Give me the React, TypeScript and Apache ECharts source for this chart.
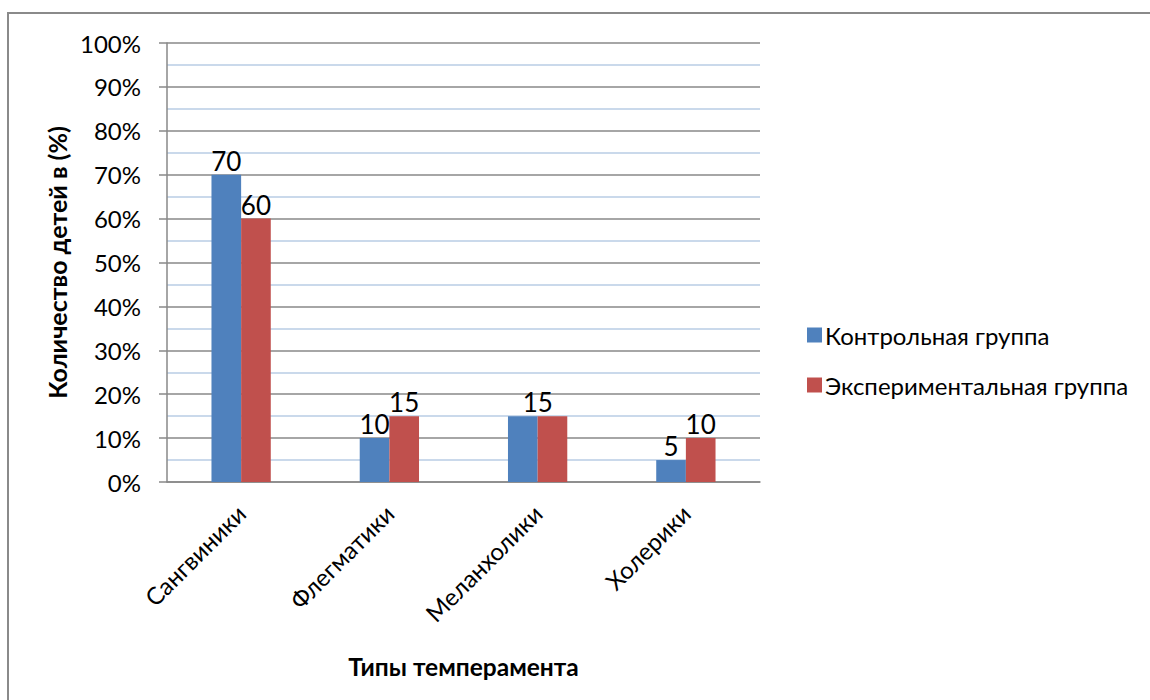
import React, { useEffect, useRef } from "react";
import * as echarts from "echarts";

const categories = ["Сангвиники", "Флегматики", "Меланхолики", "Холерики"];
const controlGroup = [70, 10, 15, 5];
const experimentalGroup = [60, 15, 15, 10];
const seriesNames = ["Контрольная группа", "Экспериментальная группа"];
const xTitle = "Типы темперамента";
const yTitle = "Количество детей в (%)";
// In the reference, the two equal "15" labels of "Меланхолики" are drawn as one, centred on the pair
const mergedLabelIndex = 2;

const FONT = "Lato, 'Open Sans', sans-serif";

export default function App() {
  const ref = useRef<HTMLDivElement>(null);
  useEffect(() => {
    if (!ref.current) return;
    const chart = echarts.init(ref.current, undefined, { renderer: "svg" });
    const labelStyle = {
      show: true,
      position: "top",
      distance: 1,
      color: "#000",
      fontSize: 26,
      fontFamily: FONT,
    };
    const barWidthShift = 15;
    const controlData = controlGroup.map((v, i) =>
      i === mergedLabelIndex ? { value: v, label: { offset: [barWidthShift, 0] } } : v
    );
    const experimentalData = experimentalGroup.map((v, i) =>
      i === mergedLabelIndex ? { value: v, label: { show: false } } : v
    );
    chart.setOption({
      animation: false,
      backgroundColor: "#fff",
      textStyle: { fontFamily: FONT },
      graphic: [
        {
          type: "rect",
          shape: { x: 8, y: 13, width: 1400, height: 900 },
          style: { fill: "none", stroke: "#8a8a8a", lineWidth: 2 },
          silent: true,
        },
      ],
      grid: { left: 167, top: 43, right: 390, bottom: 218 },
      legend: {
        orient: "vertical",
        left: 802,
        top: 317,
        itemWidth: 15,
        itemHeight: 15,
        itemGap: 24,
        icon: "rect",
        data: seriesNames,
        textStyle: { fontSize: 24, color: "#000", fontFamily: FONT, lineHeight: 26, padding: [0, 0, 0, -2] },
      },
      xAxis: {
        type: "category",
        data: categories,
        name: xTitle,
        nameLocation: "middle",
        nameGap: 172,
        nameTextStyle: { fontSize: 24.5, fontWeight: "bold", color: "#000", fontFamily: FONT },
        axisLine: { lineStyle: { color: "#888", width: 1.5 } },
        axisTick: { show: false },
        axisLabel: {
          rotate: 45,
          fontSize: 24,
          color: "#000",
          margin: 27,
          interval: 0,
          fontFamily: FONT,
        },
      },
      yAxis: {
        type: "value",
        min: 0,
        max: 100,
        interval: 10,
        name: yTitle,
        nameLocation: "middle",
        nameGap: 88,
        nameTextStyle: { fontSize: 25, fontWeight: "bold", color: "#000", fontFamily: FONT },
        axisLine: { show: true, lineStyle: { color: "#888", width: 1.5 } },
        axisTick: { show: true, length: 8, lineStyle: { color: "#888", width: 1.5 } },
        axisLabel: { formatter: "{value}%", fontSize: 24, color: "#000", margin: 26, fontFamily: FONT },
        splitLine: { show: true, lineStyle: { color: "#888", width: 1.5 } },
        minorTick: { show: false, splitNumber: 2 },
        minorSplitLine: { show: true, lineStyle: { color: "#b9cde5", width: 1.5 } },
      },
      series: [
        {
          name: seriesNames[0],
          type: "bar",
          data: controlData,
          itemStyle: { color: "#4f81bd" },
          barGap: "0%",
          barCategoryGap: "60%",
          label: labelStyle,
        },
        {
          name: seriesNames[1],
          type: "bar",
          data: experimentalData,
          itemStyle: { color: "#c0504d" },
          barGap: "0%",
          barCategoryGap: "60%",
          label: labelStyle,
        },
      ],
    });
    return () => chart.dispose();
  }, []);
  return (
    <div
      ref={ref}
      style={{ position: "absolute", left: 0, top: 0, width: 1150, height: 700 }}
    />
  );
}
